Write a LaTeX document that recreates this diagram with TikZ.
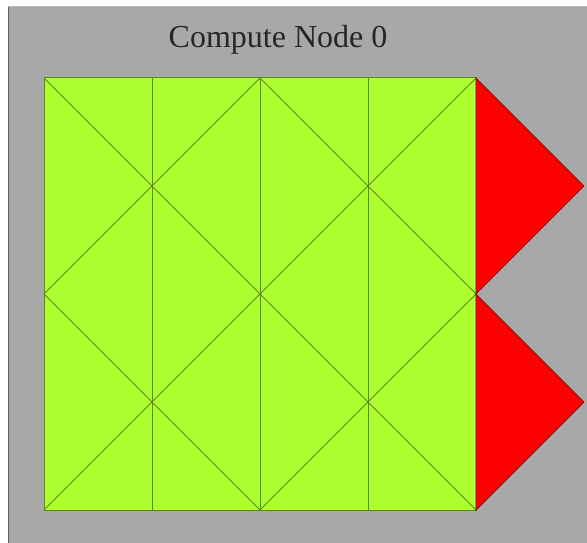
\documentclass[tikz,border=0pt]{standalone}
\usepackage{fontspec}
\setmainfont{Liberation Serif}
\definecolor{bggray}{RGB}{168,168,168}
\definecolor{meshgreen}{RGB}{173,255,47}
\definecolor{meshline}{RGB}{95,135,28}
\definecolor{redline}{RGB}{90,20,10}
\tikzset{
  meshedge/.style={draw=meshline, line width=1pt},
  ghosttri/.style={fill=red, draw=redline, line width=0.7pt, line join=miter},
}
\begin{document}
\begin{tikzpicture}[x=1pt,y=-1pt]
\useasboundingbox (0,0) rectangle (587,543);
% background panel
\fill[bggray] (8,6) rectangle (587,543);
\draw[gray!75!black, line width=1.2pt] (8.6,543) -- (8.6,6);
\draw[gray!55, line width=1pt] (8,6.5) -- (587,6.5);
% title
\node[font=\fontsize{32}{34}\selectfont, text=black!85] (title) at (278,40) {Compute Node 0};
% grid coordinates
\foreach \i/\x in {0/44,1/152,2/260,3/368,4/476}{
  \foreach \j/\y in {0/78,1/186,2/294,3/402,4/510}{
    \coordinate (p\i\j) at (\x,\y);
  }
}
\coordinate (t1) at (584,186);
\coordinate (t2) at (584,402);
% green square
\fill[meshgreen] (p00) rectangle (p44);
% vertical lines
\foreach \i in {1,2,3}{
  \draw[meshedge] (p\i0) -- (p\i4);
}
% X patterns
\draw[meshedge] (p00) -- (p22) (p20) -- (p02);
\draw[meshedge] (p20) -- (p42) (p40) -- (p22);
\draw[meshedge] (p02) -- (p24) (p22) -- (p04);
\draw[meshedge] (p22) -- (p44) (p42) -- (p24);
\draw[meshedge] (p00) rectangle (p44);
% red ghost triangles
\filldraw[ghosttri] (p40) -- (t1) -- (p42) -- cycle;
\filldraw[ghosttri] (p42) -- (t2) -- (p44) -- cycle;
\end{tikzpicture}
\end{document}
